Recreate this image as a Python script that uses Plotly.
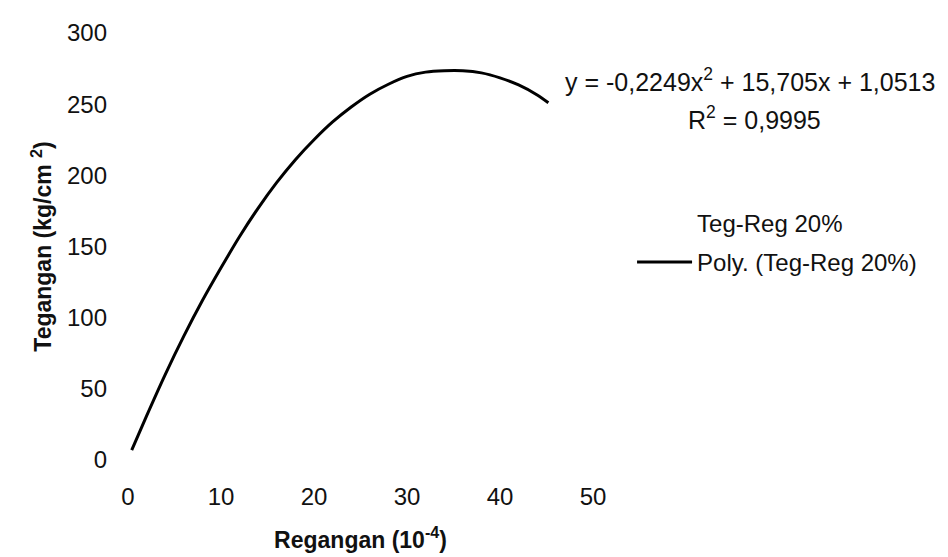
import plotly.graph_objects as go

# Values (strain x 1e-4, stress kg/cm2)
regangan = [0.4, 2, 4, 6, 8, 10, 12, 14, 16, 18, 20, 22, 24, 26, 28, 30,
            32, 34, 36, 38, 40, 42, 44, 45.2]
tegangan = [7, 31, 60, 87, 112, 135, 157, 177, 195, 211, 225, 237.5, 248,
            257, 264, 269.5, 272.5, 273.5, 273.5, 272, 268.5, 263.5, 256.5, 251]

x_ticks = [0, 10, 20, 30, 40, 50]
y_ticks = [0, 50, 100, 150, 200, 250, 300]

equation = "y = -0,2249x<sup>2</sup> + 15,705x + 1,0513"
r_squared = "R<sup>2</sup> = 0,9995"

FONT = "Liberation Sans, Arial, sans-serif"
FS = 24

fig = go.Figure()
fig.add_trace(go.Scatter(
    x=regangan, y=tegangan, mode="lines", name="Teg-Reg 20%",
    line=dict(color="rgba(0,0,0,0)", width=0), hoverinfo="skip",
    legendgroup="a",
))
fig.add_trace(go.Scatter(
    x=regangan, y=tegangan, mode="lines", name="Poly. (Teg-Reg 20%)",
    line=dict(color="black", width=3, shape="spline", smoothing=0.8),
    legendgroup="b",
))

fig.add_annotation(
    xref="paper", yref="paper", x=1.3366, y=0.89,
    text=equation, showarrow=False,
    font=dict(family=FONT, size=25, color="#111"), xanchor="center", yanchor="middle",
)
fig.add_annotation(
    xref="paper", yref="paper", x=1.348, y=0.801,
    text=r_squared, showarrow=False,
    font=dict(family=FONT, size=25, color="#111"), xanchor="center", yanchor="middle",
)

fig.update_layout(
    width=948, height=557,
    margin=dict(l=120, r=363, t=25, b=105),
    paper_bgcolor="white", plot_bgcolor="white",
    font=dict(family=FONT, size=FS, color="#111"),
    showlegend=True,
    legend=dict(
        x=1.084, y=0.607, xanchor="left", yanchor="top",
        bgcolor="rgba(0,0,0,0)", font=dict(size=FS, family=FONT),
        itemwidth=55, tracegroupgap=5,
    ),
    xaxis=dict(
        range=[0, 50], tickvals=x_ticks, showgrid=False, zeroline=False,
        showline=False, ticks="", ticklabelstandoff=20,
        tickfont=dict(size=FS, family=FONT),
        title=dict(text="<b>Regangan (10<sup>-4</sup>)</b>", standoff=22,
                   font=dict(size=23, family=FONT)),
        automargin=False,
    ),
    yaxis=dict(
        range=[0, 300], tickvals=y_ticks, showgrid=False, zeroline=False,
        showline=False, ticks="", ticklabelstandoff=20,
        tickfont=dict(size=FS, family=FONT),
        title=dict(text="<b>Tegangan (kg/cm <sup>2</sup>)</b>", standoff=8,
                   font=dict(size=23, family=FONT)),
        automargin=False,
    ),
)

fig.write_html("out.html")
